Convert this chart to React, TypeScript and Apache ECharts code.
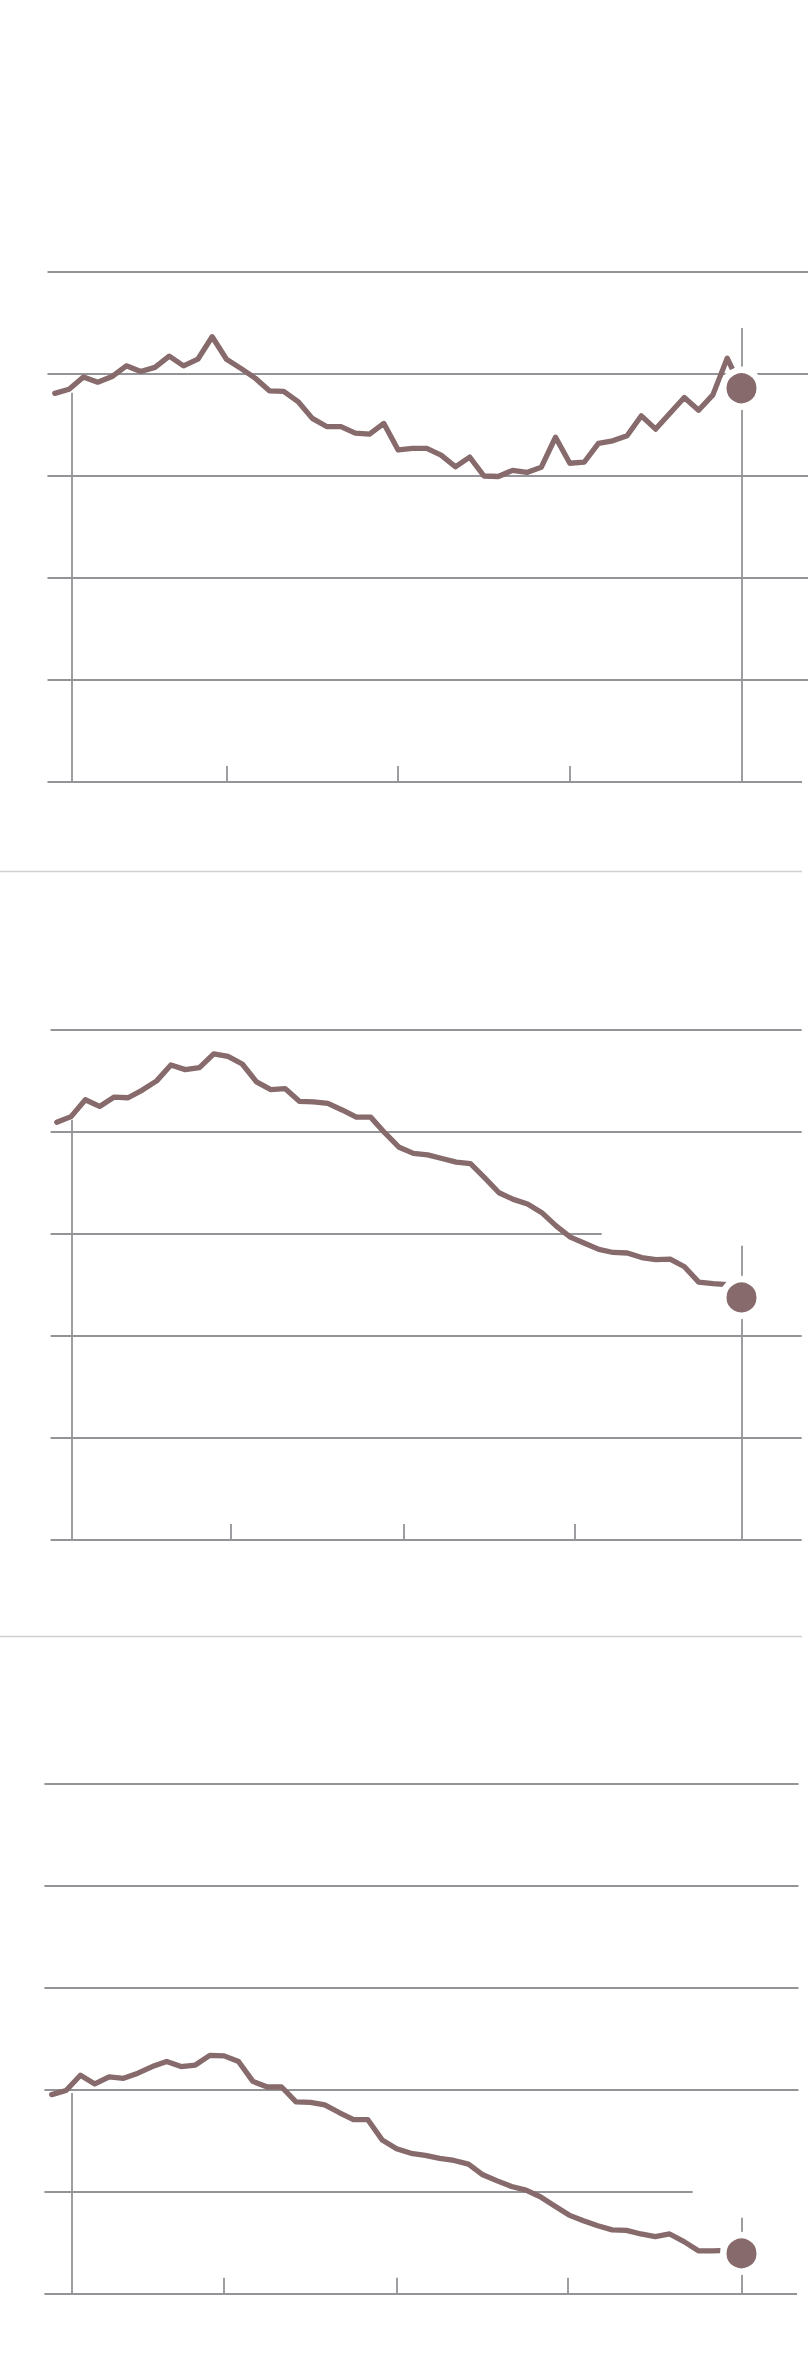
import React, { useEffect, useRef } from "react";
import * as echarts from "echarts";

// ---- Data (y on a 0–100 scale, x = period index 0..48) ----
const series1 = [76.2, 77.0, 79.4, 78.4, 79.5, 81.6, 80.5, 81.3, 83.5, 81.6, 82.9, 87.3, 82.9, 81.1, 79.2, 76.7, 76.6, 74.6, 71.3, 69.7, 69.7, 68.4, 68.2, 70.3, 65.1, 65.4, 65.4, 64.1, 61.8, 63.7, 60.0, 59.9, 61.1, 60.7, 61.7, 67.6, 62.5, 62.7, 66.4, 66.9, 67.9, 71.8, 69.2, 72.3, 75.4, 72.9, 75.9, 83.1, 77.2];
const series2 = [81.8, 82.9, 86.2, 84.9, 86.7, 86.6, 88.1, 89.9, 93.0, 92.1, 92.5, 95.2, 94.7, 93.2, 89.7, 88.2, 88.4, 85.9, 85.8, 85.5, 84.2, 82.8, 82.8, 79.7, 76.9, 75.7, 75.4, 74.7, 74.0, 73.7, 70.9, 68.0, 66.7, 65.8, 64.1, 61.5, 59.3, 58.1, 56.9, 56.3, 56.2, 55.3, 54.9, 55.0, 53.5, 50.5, 50.2, 50.0, 47.5];
const series3 = [39.0, 39.8, 42.8, 41.1, 42.5, 42.2, 43.2, 44.5, 45.5, 44.5, 44.8, 46.7, 46.6, 45.5, 41.6, 40.5, 40.5, 37.6, 37.5, 37.0, 35.5, 34.1, 34.1, 30.1, 28.4, 27.5, 27.1, 26.5, 26.1, 25.4, 23.3, 22.1, 21.0, 20.3, 19.0, 17.2, 15.4, 14.3, 13.3, 12.5, 12.4, 11.7, 11.2, 11.7, 10.2, 8.4, 8.4, 8.5, 7.9];

// y gridline values
const yTicks = [0, 20, 40, 60, 80, 100];
// x tick positions (period index)
const xTicks1 = [12, 24, 36];
const xTicks2 = [12.2, 24.3, 36.3];
const xTicks3 = [12, 24, 35.9];
// vertical rules: left rule position (index) and tops (value units)
const leftRule = [1.19, 1.05, 1.4];
const leftRuleTop = [76.3, 82.3, 39.3];
const rightRuleTop = [89.0, 57.6, 14.9];
// shortened gridlines: [value, end index] or null
const shortLines: (number[] | null)[] = [null, [60, 38.2], [20, 44.6]];

// ---- Layout (pixels) ----
const W = 808;
const H = 2380;
const layouts = [
  { top: 272, height: 510, left: 47.5, end: 808, firstX: 54.8, lastX: 741.5, baseEnd: 802 },
  { top: 1029.3, height: 510.7, left: 50.6, end: 801.7, firstX: 56.8, lastX: 741.5, baseEnd: 801.7 },
  { top: 1783.3, height: 510.4, left: 44.4, end: 798.5, firstX: 51.7, lastX: 741.5, baseEnd: 797 },
];
const separators = [871.5, 1636.5];
const LINE_COLOR = "#876a6b";
const GRID_COLOR = "#949498";
const SEP_COLOR = "#d0d0d0";
const TICK_PX = 16;

export default function App() {
  const ref = useRef<HTMLDivElement>(null);
  useEffect(() => {
    document.body.style.margin = "0";
    if (!ref.current) return;
    const chart = echarts.init(ref.current, undefined, { renderer: "svg" });
    const allSeries = [series1, series2, series3];
    const allXTicks = [xTicks1, xTicks2, xTicks3];
    const grid: any[] = [];
    const xAxis: any[] = [];
    const yAxis: any[] = [];
    const series: any[] = [];
    allSeries.forEach((vals, k) => {
      const L = layouts[k];
      const n = vals.length - 1;
      const dx = (L.lastX - L.firstX) / n;
      const xMin = (L.left - L.firstX) / dx;
      const xMax = (L.end - L.firstX) / dx;
      const baseEndIdx = (L.baseEnd - L.firstX) / dx;
      const yMax = yTicks[yTicks.length - 1];
      const tickVal = (TICK_PX / L.height) * yMax;
      grid.push({ left: L.left, top: L.top, width: L.end - L.left, height: L.height });
      xAxis.push({ type: "value", gridIndex: k, min: xMin, max: xMax, show: false });
      yAxis.push({ type: "value", gridIndex: k, min: yTicks[0], max: yMax, show: false });

      const gridLines: any[] = yTicks.map((v) => {
        let endX = xMax;
        if (v === 0) endX = baseEndIdx;
        const s = shortLines[k];
        if (s && s[0] === v) endX = s[1];
        return [{ coord: [xMin, v] }, { coord: [endX, v] }];
      });
      series.push({
        type: "line",
        xAxisIndex: k,
        yAxisIndex: k,
        data: [],
        z: 1,
        silent: true,
        markLine: {
          z: 1,
          silent: true,
          symbol: ["none", "none"],
          label: { show: false },
          lineStyle: { color: GRID_COLOR, width: 2.2, type: "solid", opacity: 1 },
          emphasis: { disabled: true },
          data: gridLines,
        },
      });
      const rules: any[] = [
        [{ coord: [leftRule[k], leftRuleTop[k]] }, { coord: [leftRule[k], 0] }],
        [{ coord: [n, rightRuleTop[k]] }, { coord: [n, 0] }],
        ...allXTicks[k].map((t) => [{ coord: [t, tickVal] }, { coord: [t, 0] }]),
      ];
      series.push({
        type: "line",
        xAxisIndex: k,
        yAxisIndex: k,
        data: [],
        z: 1,
        silent: true,
        markLine: {
          z: 1,
          silent: true,
          symbol: ["none", "none"],
          label: { show: false },
          lineStyle: { color: GRID_COLOR, width: 1.8, type: "solid", opacity: 1 },
          emphasis: { disabled: true },
          data: rules,
        },
      });
      series.push({
        type: "line",
        xAxisIndex: k,
        yAxisIndex: k,
        data: vals.map((v, i) => [i, v]),
        showSymbol: false,
        symbol: "none",
        z: 2,
        silent: true,
        lineStyle: { color: LINE_COLOR, width: 5.3, cap: "round", join: "round" },
      });
      series.push({
        type: "scatter",
        xAxisIndex: k,
        yAxisIndex: k,
        data: [[n, vals[n]]],
        symbol: "circle",
        symbolSize: 36.5,
        z: 3,
        silent: true,
        itemStyle: { color: LINE_COLOR, borderColor: "#ffffff", borderWidth: 6.5, opacity: 1 },
      });
    });

    chart.setOption({
      animation: false,
      backgroundColor: "#ffffff",
      grid,
      xAxis,
      yAxis,
      series,
      graphic: separators.map((y) => ({
        type: "line",
        silent: true,
        shape: { x1: 0, y1: y, x2: 802, y2: y },
        style: { stroke: SEP_COLOR, lineWidth: 1.5 },
      })),
    });
    return () => chart.dispose();
  }, []);
  return <div ref={ref} style={{ width: W, height: H }} />;
}
